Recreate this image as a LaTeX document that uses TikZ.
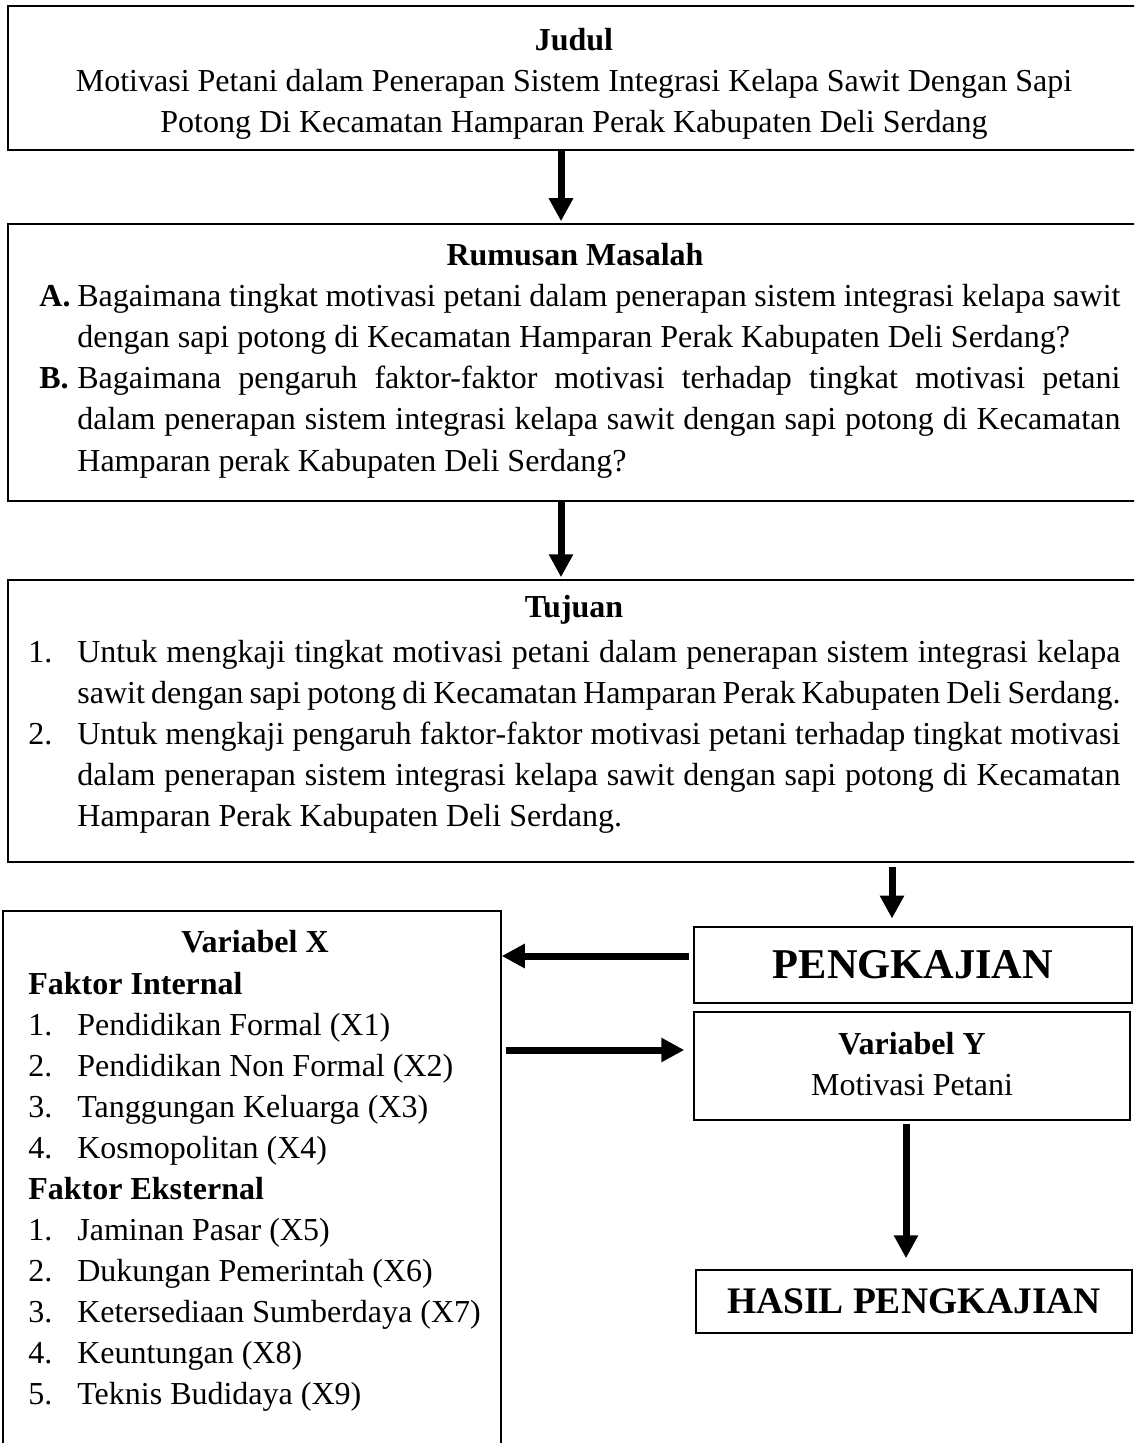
\documentclass[tikz,border=0pt]{standalone}
\usepackage{fontspec}
\setmainfont{Liberation Serif}
\usetikzlibrary{arrows.meta}
\newcommand\jline[1]{\hbox to 521.5pt{#1}}
\begin{document}
\begin{tikzpicture}[x=0.5pt,y=-0.5pt,
  box/.style={draw, line width=0.75pt, inner sep=0pt},
  thickbox/.style={draw, line width=1.4pt, inner sep=0pt},
  txt/.style={inner sep=0pt, font=\fontsize{16}{20.5}\selectfont},
  bigtxt/.style={font=\bfseries\fontsize{21.2}{24}\selectfont},
  bigarrow/.style={line width=3.5pt, -{Triangle[length=11.5pt,width=11.5pt]}}]
\fill[white] (0,0) rectangle (1134,1443);
\clip (0,0) rectangle (1134,1443);
% boxes
\node[box, minimum width=566pt, minimum height=72pt] (judul) at (574,78) {};
\node[box, minimum width=566pt, minimum height=138.5pt] (rumusan) at (574,362.5) {};
\node[box, minimum width=566pt, minimum height=141pt] (tujuan) at (574,721) {};
\node[box, minimum width=249pt, minimum height=274.5pt] (vx) at (252,1185.5) {};
\node[thickbox, minimum width=219pt, minimum height=38pt, bigtxt] (pk) at (913,965) {PENGKAJIAN};
\node[box, minimum width=218pt, minimum height=54pt] (vy) at (912,1066) {};
\node[box, minimum width=218pt, minimum height=31.5pt, font=\bfseries\fontsize{18.75}{22}\selectfont] (hasil) at (914,1301.5) {HASIL PENGKAJIAN};
% texts
\node[txt, anchor=base, text width=560pt, align=flush center] (tjudul) at (574,51)
  {\textbf{Judul}\\Motivasi Petani dalam Penerapan Sistem Integrasi Kelapa Sawit Dengan Sapi\\Potong Di Kecamatan Hamparan Perak Kabupaten Deli Serdang};
\node[txt, anchor=base] (trum) at (575,266) {\textbf{Rumusan Masalah}};
\node[txt, anchor=base west, text width=545pt, align=flush left] (lrum) at (39,307)
  {\makebox[19pt][l]{\textbf{A.}}\jline{Bagaimana tingkat motivasi petani dalam penerapan sistem integrasi kelapa sawit}\\
   \hspace*{19pt}dengan sapi potong di Kecamatan Hamparan Perak Kabupaten Deli Serdang?\\
   \makebox[19pt][l]{\textbf{B.}}\jline{Bagaimana pengaruh faktor-faktor motivasi terhadap tingkat motivasi petani}\\
   \hspace*{19pt}\jline{dalam penerapan sistem integrasi kelapa sawit dengan sapi potong di Kecamatan}\\
   \hspace*{19pt}Hamparan perak Kabupaten Deli Serdang?};
\node[txt, anchor=base] (ttuj) at (574,617) {\textbf{Tujuan}};
\node[txt, anchor=base west, text width=550pt, align=flush left] (ltuj) at (28,662)
  {\makebox[24.5pt][l]{1.}\jline{Untuk mengkaji tingkat motivasi petani dalam penerapan sistem integrasi kelapa}\\
   \hspace*{24.5pt}\jline{sawit dengan sapi potong di Kecamatan Hamparan Perak Kabupaten Deli Serdang.}\\
   \makebox[24.5pt][l]{2.}\jline{Untuk mengkaji pengaruh faktor-faktor motivasi petani terhadap tingkat motivasi}\\
   \hspace*{24.5pt}\jline{dalam penerapan sistem integrasi kelapa sawit dengan sapi potong di Kecamatan}\\
   \hspace*{24.5pt}Hamparan Perak Kabupaten Deli Serdang.};
\node[txt, anchor=base] (tvx) at (255,952) {\textbf{Variabel X}};
\node[txt, anchor=base west, text width=235pt, align=flush left] (lvx) at (28,994)
  {\textbf{Faktor Internal}\\
   \makebox[24.5pt][l]{1.}Pendidikan Formal (X1)\\
   \makebox[24.5pt][l]{2.}Pendidikan Non Formal (X2)\\
   \makebox[24.5pt][l]{3.}Tanggungan Keluarga (X3)\\
   \makebox[24.5pt][l]{4.}Kosmopolitan (X4)\\
   \textbf{Faktor Eksternal}\\
   \makebox[24.5pt][l]{1.}Jaminan Pasar (X5)\\
   \makebox[24.5pt][l]{2.}Dukungan Pemerintah (X6)\\
   \makebox[24.5pt][l]{3.}Ketersediaan Sumberdaya (X7)\\
   \makebox[24.5pt][l]{4.}Keuntungan (X8)\\
   \makebox[24.5pt][l]{5.}Teknis Budidaya (X9)};
\node[txt, anchor=base, text width=200pt, align=flush center] (tvy) at (912,1054)
  {\textbf{Variabel Y}\\Motivasi Petani};
% arrows
\coordinate (c1) at (561,0);
\coordinate (c3) at (892,0);
\coordinate (c4) at (0,956);
\coordinate (c5) at (0,1050);
\coordinate (c6) at (906,0);
\draw[bigarrow] (judul.south -| c1) -- ([yshift=1pt]rumusan.north -| c1);
\draw[bigarrow] (rumusan.south -| c1) -- ([yshift=1pt]tujuan.north -| c1);
\draw[bigarrow] ([yshift=-2pt]tujuan.south -| c3) -- ([yshift=3.5pt]pk.north -| c3);
\draw[bigarrow] ([xshift=-2pt]pk.west |- c4) -- (vx.east |- c4);
\draw[bigarrow] ([xshift=2pt]vx.east |- c5) -- ([xshift=-4.5pt]vy.west |- c5);
\draw[bigarrow] ([yshift=-1.5pt]vy.south -| c6) -- ([yshift=5.5pt]hasil.north -| c6);
\end{tikzpicture}
\end{document}
